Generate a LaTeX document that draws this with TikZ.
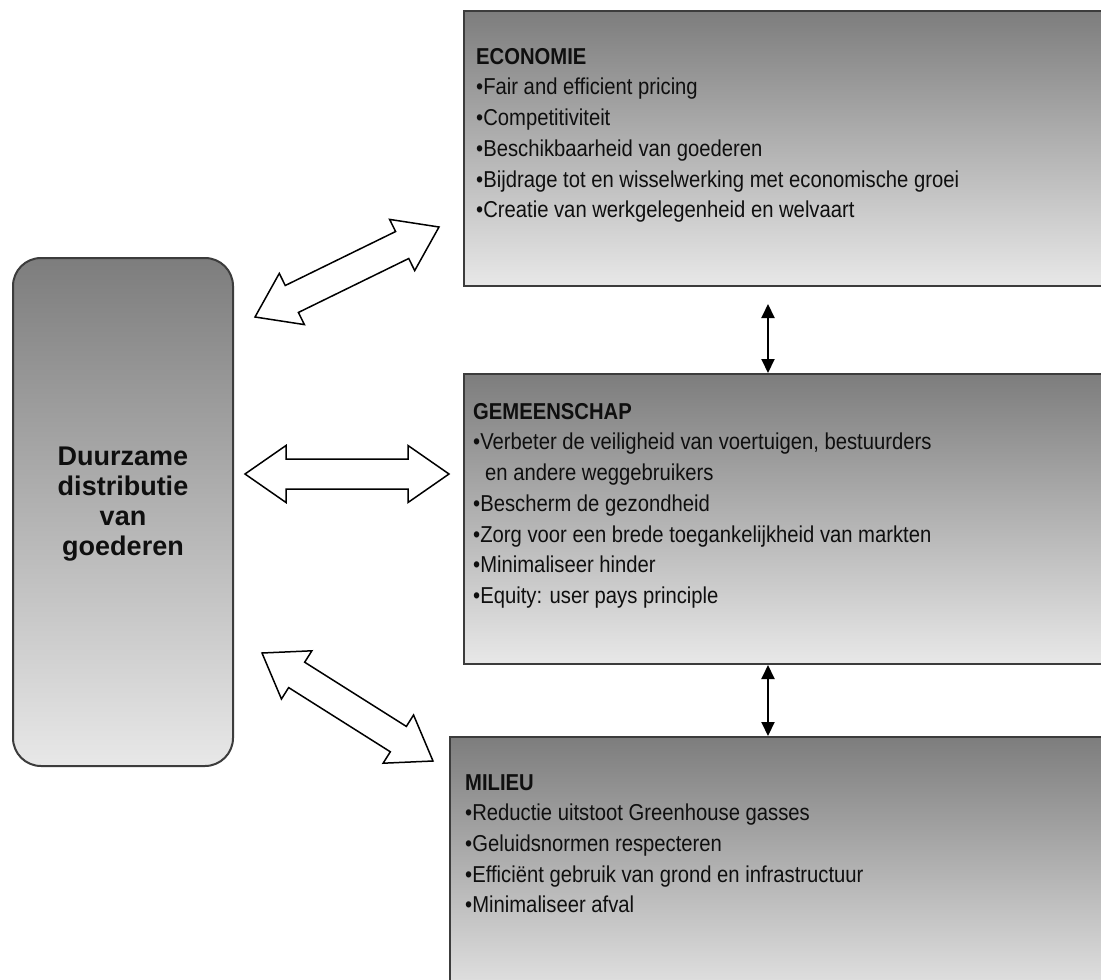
\documentclass[tikz,border=0pt]{standalone}
\usepackage{fontspec}
\setmainfont{Liberation Sans}
\newfontfamily\bodyfont{Liberation Sans}[FakeStretch=0.88]
\usetikzlibrary{calc,arrows.meta}

\definecolor{boxtop}{RGB}{125,125,125}
\definecolor{boxbot}{RGB}{232,232,232}
\definecolor{edgegray}{RGB}{60,60,60}
\definecolor{ink}{RGB}{15,15,15}

\tikzset{
  panel/.style={draw=edgegray, line width=2pt, top color=boxtop, bottom color=boxbot,
                inner sep=0pt, anchor=north west},
  paneltext/.style={anchor=north west, inner sep=0pt, align=left, text=ink,
                    font=\bodyfont\fontsize{23}{30.7}\selectfont},
  bigarrow/.style={draw=black, line width=1.5pt, fill=white, line join=miter},
  thinarrow/.style={line width=2pt,
     {Triangle[width=13pt,length=14pt]}-{Triangle[width=13pt,length=14pt]}},
}

\newcommand\dblblock[2]{%
  \draw[bigarrow] let \p1=(#1), \p2=(#2), \n1={atan2(\y2-\y1,\x2-\x1)} in
    (\p1) -- ($(\p1)+(\n1:41pt)+(\n1+90:28.5pt)$)
          -- ($(\p1)+(\n1:41pt)+(\n1+90:15pt)$)
          -- ($(\p2)+(\n1+180:41pt)+(\n1+90:15pt)$)
          -- ($(\p2)+(\n1+180:41pt)+(\n1+90:28.5pt)$)
          -- (\p2)
          -- ($(\p2)+(\n1+180:41pt)+(\n1-90:28.5pt)$)
          -- ($(\p2)+(\n1+180:41pt)+(\n1-90:15pt)$)
          -- ($(\p1)+(\n1:41pt)+(\n1-90:15pt)$)
          -- ($(\p1)+(\n1:41pt)+(\n1-90:28.5pt)$) -- cycle;}

\begin{document}
\begin{tikzpicture}[x=1pt,y=-1pt]
\useasboundingbox (0,0) rectangle (1101,980);
\clip (0,0) rectangle (1101,980);
\fill[white] (0,0) rectangle (1101,980);

% left box
\node[panel, rounded corners=28pt, minimum width=220pt, minimum height=508pt] (L) at (12,257) {};
\node[inner sep=0pt, align=center, text=ink,
      font=\fontsize{27}{30}\selectfont\bfseries] (Lt) at ([yshift=8pt]L.center)
  {Duurzame\\distributie\\van\\goederen};

% right panels
\node[panel, minimum width=660pt, minimum height=275pt] (E) at (463,10) {};
\node[panel, minimum width=660pt, minimum height=290pt] (G) at (463,373) {};
\node[panel, minimum width=680pt, minimum height=270pt] (M) at (449,736) {};

\node[paneltext] (Et) at (476,48)
  {\textbf{ECONOMIE}\\
   •Fair and efficient pricing\\
   •Competitiviteit\\
   •Beschikbaarheid van goederen\\
   •Bijdrage tot en wisselwerking met economische groei\\
   •Creatie van werkgelegenheid en welvaart};

\node[paneltext] (Gt) at (473,403)
  {\textbf{GEMEENSCHAP}\\
   •Verbeter de veiligheid van voertuigen, bestuurders\\
   \hspace*{12pt}en andere weggebruikers\\
   •Bescherm de gezondheid\\
   •Zorg voor een brede toegankelijkheid van markten\\
   •Minimaliseer hinder\\
   •Equity: user pays principle};

\node[paneltext] (Mt) at (465,774)
  {\textbf{MILIEU}\\
   •Reductie uitstoot Greenhouse gasses\\
   •Geluidsnormen respecteren\\
   •Efficiënt gebruik van grond en infrastructuur\\
   •Minimaliseer afval};

% block arrows
\coordinate (a1) at (255,317); \coordinate (b1) at (439,227);
\coordinate (a2) at (245,474); \coordinate (b2) at (449,474);
\coordinate (a3) at (262,653); \coordinate (b3) at (433,761);
\dblblock{a1}{b1}
\dblblock{a2}{b2}
\dblblock{a3}{b3}

% thin arrows
\coordinate (mx) at (768,0);
\draw[thinarrow, shorten <=17pt] (E.south -| mx) -- (G.north -| mx);
\draw[thinarrow] (G.south -| mx) -- (M.north -| mx);
\end{tikzpicture}
\end{document}
